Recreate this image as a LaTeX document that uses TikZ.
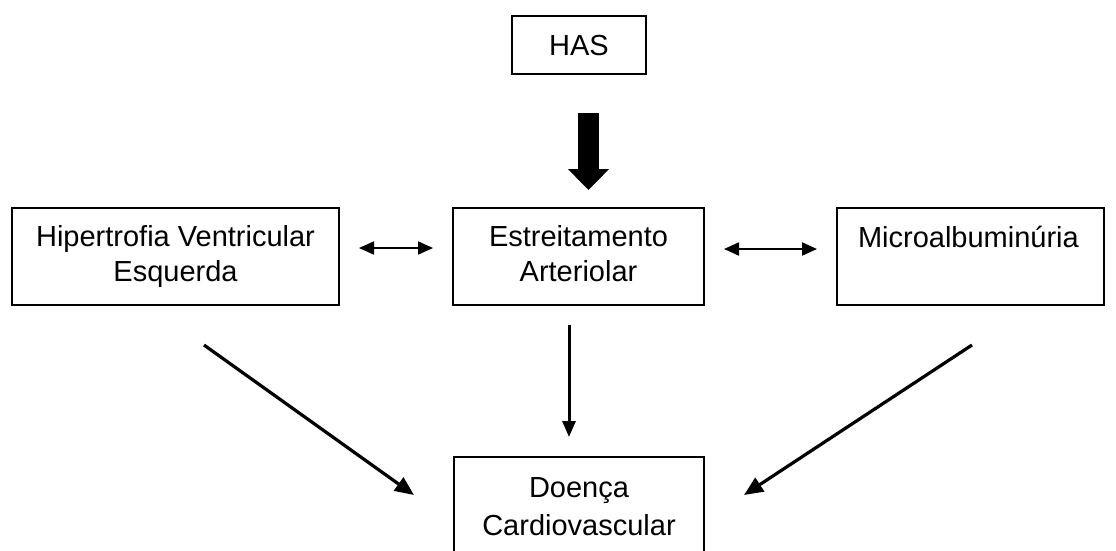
\documentclass[tikz,border=0pt]{standalone}
\usepackage{fontspec}
\setmainfont{Liberation Sans}
\usetikzlibrary{arrows.meta}
\begin{document}
\begin{tikzpicture}[x=1pt,y=-1pt,
  box/.style={draw, line width=2pt, inner sep=0pt, align=center, text height=21pt,
    font=\fontsize{29pt}{35pt}\selectfont},
  conn/.style={line width=3.2pt, -{Triangle[length=19pt,width=16pt]}},
  vconn/.style={line width=3pt, -{Triangle[length=16pt,width=13pt]}},
  dbl/.style={line width=2pt, {Triangle[length=15pt,width=13pt]}-{Triangle[length=15pt,width=13pt]},
    shorten <=19pt, shorten >=19pt},
  bigarrow/.style={line width=21pt, -{Triangle[length=21pt,width=40pt]}}
]
\clip (0,0) rectangle (1116,550);
\fill[white] (0,0) rectangle (1116,550);

\node[box, minimum width=134pt, minimum height=58pt, text depth=1pt] (has) at (579,45) {HAS};
\node[box, minimum width=327pt, minimum height=97pt, text height=56pt, text depth=7pt] (hve) at (175.5,256.5)
  {Hipertrofia Ventricular\\Esquerda};
\node[box, minimum width=251pt, minimum height=97pt, text height=56pt, text depth=7pt] (ea) at (578.5,256.5)
  {Estreitamento\\Arteriolar};
\node[box, minimum width=267pt, minimum height=97pt, text depth=40pt, text width=225pt, align=left] (mic) at (970.5,256.5)
  {Microalbuminúria};
\node[box, minimum width=250pt, minimum height=103pt, text height=59pt, text depth=6pt,
  font=\fontsize{29pt}{38pt}\selectfont] (dc) at (579,508.5)
  {Doença\\Cardiovascular};

\draw[bigarrow, shorten <=38pt, shorten >=17pt] ([xshift=9.5pt]has.south) -- ([xshift=9.5pt]has.south |- ea.north);
\draw[dbl] ([yshift=8.5pt]hve.east) -- ([yshift=8.5pt]ea.west);
\draw[dbl] ([yshift=7.5pt]ea.east) -- ([yshift=7.5pt]mic.west);
\draw[vconn, shorten <=19pt, shorten >=19pt] ([xshift=-9.5pt]ea.south) -- ([xshift=-9.5pt]ea.south |- dc.north);
\draw[conn] ([xshift=28.5pt,yshift=-39pt]hve.south) -- ([xshift=-39pt,yshift=-39pt]dc.north west);
\draw[conn] ([xshift=1.5pt,yshift=-39pt]mic.south) -- ([xshift=39pt,yshift=-39pt]dc.north east);
\end{tikzpicture}
\end{document}
